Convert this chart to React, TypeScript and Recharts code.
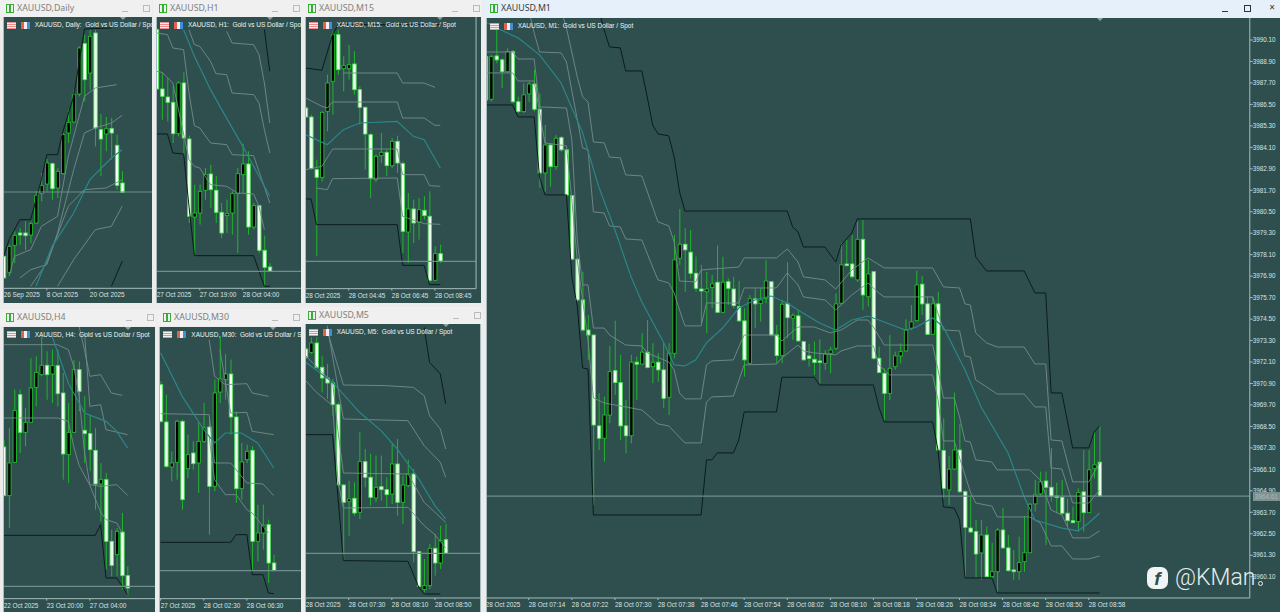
import { Bar, ComposedChart, Line, ReferenceLine, XAxis, YAxis } from "recharts"

const BG = "#2f4f4f"
const BLACK = "#0b1b1d"
const GREY = "#748b8b"
const TEAL = "#2b8689"
const AXIS = "#a6bcbc"
const BAND = 5.385

type Knot = number[]

// M1 has a readable price axis. The other panes show no prices, so they use relative points.
const m1Open = [3989.17,3986.79,3989.21,3988.99,3988.33,3989.45,3986.65,3986.10,3987.09,3987.64,3986.23,3982.67,3984.23,3983.02,3984.64,3983.96,3981.40,3977.85,3975.57,3973.89,3973.61,3968.53,3967.84,3969.14,3971.62,3970.95,3968.53,3967.98,3972.09,3971.99,3972.65,3971.84,3972.09,3971.66,3970.13,3972.59,3977.90,3978.68,3978.24,3977.06,3976.18,3976.03,3976.26,3976.56,3974.88,3976.59,3976.18,3975.20,3974.40,3972.03,3975.63,3975.38,3975.66,3976.59,3973.61,3972.46,3975.36,3974.55,3974.68,3973.24,3972.44,3972.25,3972.16,3972.03,3972.59,3972.87,3975.39,3977.58,3977.58,3976.69,3978.96,3975.75,3977.15,3972.31,3971.47,3970.35,3971.84,3972.44,3972.72,3973.99,3974.41,3976.45,3975.35,3973.65,3975.35,3967.15,3964.95,3966.12,3967.18,3964.85,3962.82,3962.62,3961.43,3962.43,3960.10,3960.38,3962.71,3961.71,3960.48,3960.38,3960.94,3961.44,3964.17,3964.73,3965.45,3965.10,3964.61,3964.54,3963.65,3963.23,3963.18,3964.84,3963.68,3966.16,3966.50]
const m1High = [3989.27,3989.27,3990.83,3989.08,3989.64,3989.55,3986.93,3987.68,3987.77,3988.43,3987.12,3985.35,3984.33,3984.79,3984.74,3983.96,3981.44,3977.90,3977.15,3974.73,3973.61,3970.35,3970.16,3973.00,3974.41,3972.50,3969.98,3972.50,3972.40,3973.71,3974.45,3973.15,3972.59,3973.17,3973.15,3979.20,3980.66,3979.58,3979.48,3977.99,3977.53,3977.15,3976.97,3978.61,3977.99,3976.78,3976.87,3976.63,3975.11,3975.85,3976.22,3976.22,3977.81,3976.59,3974.17,3975.57,3977.68,3974.83,3975.01,3973.24,3973.11,3973.24,3973.37,3972.77,3972.96,3975.94,3978.74,3978.92,3979.20,3979.95,3980.04,3977.81,3977.15,3972.96,3971.75,3973.61,3972.68,3973.15,3974.49,3975.29,3977.21,3976.91,3975.75,3975.75,3976.03,3968.96,3966.85,3970.39,3968.64,3964.95,3964.58,3963.27,3963.27,3962.90,3961.99,3962.82,3963.94,3962.43,3961.59,3962.34,3963.50,3964.22,3965.51,3965.97,3965.97,3967.28,3965.36,3965.51,3964.48,3964.02,3965.04,3967.18,3967.18,3968.17,3968.53]
const m1Low = [3986.65,3986.65,3988.80,3987.40,3988.24,3986.57,3986.01,3986.01,3986.65,3986.10,3981.83,3981.62,3981.90,3982.84,3983.86,3981.34,3977.81,3975.48,3973.80,3972.22,3964.11,3967.18,3966.53,3968.68,3970.26,3967.74,3967.00,3967.56,3969.98,3971.94,3971.75,3970.91,3971.00,3969.52,3969.14,3972.31,3977.53,3976.03,3976.78,3976.03,3974.28,3973.71,3975.11,3974.83,3974.83,3975.29,3975.11,3974.36,3971.28,3971.94,3973.99,3974.36,3975.39,3973.52,3972.03,3972.03,3973.43,3973.33,3973.24,3972.18,3971.84,3971.38,3970.91,3971.66,3971.47,3972.77,3975.29,3977.43,3976.78,3976.59,3975.01,3975.20,3972.22,3971.47,3968.86,3969.98,3971.66,3972.03,3972.68,3973.89,3974.36,3974.73,3973.61,3973.61,3967.18,3964.48,3964.11,3966.07,3964.76,3960.10,3962.54,3960.03,3959.92,3960.03,3960.03,3959.26,3961.67,3960.37,3959.92,3959.92,3960.38,3961.43,3963.74,3964.58,3961.87,3964.30,3963.65,3963.55,3962.90,3963.09,3962.62,3962.62,3963.65,3965.60,3964.58]
const m1Close = [3986.75,3989.17,3988.99,3988.33,3989.45,3986.65,3986.10,3987.03,3987.64,3986.23,3982.67,3984.23,3983.02,3984.61,3983.96,3981.44,3977.85,3975.57,3973.89,3973.61,3968.58,3967.84,3969.14,3971.56,3970.95,3968.53,3967.98,3972.09,3971.98,3972.65,3971.79,3972.09,3971.66,3970.07,3972.59,3977.81,3978.68,3978.37,3977.06,3976.22,3976.07,3976.18,3976.47,3974.88,3976.56,3976.22,3975.25,3974.40,3972.22,3975.63,3975.35,3975.57,3976.63,3973.61,3972.46,3975.33,3974.58,3974.69,3973.28,3972.22,3972.30,3972.07,3972.08,3972.55,3972.77,3975.35,3977.53,3977.49,3976.87,3978.96,3975.85,3977.02,3972.31,3971.51,3970.35,3971.75,3972.44,3972.68,3973.89,3974.34,3976.41,3975.35,3973.65,3975.35,3967.18,3965.04,3966.11,3967.18,3964.85,3962.86,3962.60,3961.37,3962.43,3960.10,3960.38,3962.71,3961.71,3960.44,3960.38,3960.89,3961.44,3964.15,3964.67,3965.41,3965.10,3964.58,3964.54,3963.65,3963.23,3963.12,3964.80,3963.68,3966.07,3966.35,3964.61]

const m1Upper: Knot[] = [[21,3991.78],[22,3990.66],[23,3989.71],[25,3989.66],[26,3988.37],[29,3988.37],[30,3986.92],[31,3985.35],[32,3984.85],[34,3984.74],[35,3983.56],[36,3981.61],[37,3980.54],[56,3980.54],[57,3979.65],[58,3979.37],[59,3978.53],[63,3978.53],[65,3977.69],[66,3978.64],[68,3979.31],[69,3980.10],[90,3980.10],[91,3977.97],[93,3977.19],[100,3977.19],[102,3975.96],[104,3975.96],[105,3970.37],[107,3970.37],[109,3967.30],[112,3967.30],[113,3968.19],[114,3968.53]]
const m1Lower: Knot[] = [[0,3986.47],[5,3986.47],[6,3985.80],[9,3985.80],[10,3982.45],[11,3981.44],[15,3981.44],[16,3976.86],[17,3975.23],[18,3971.77],[19,3971.71],[20,3963.55],[40,3963.55],[41,3966.63],[42,3966.63],[43,3967.02],[46,3967.02],[47,3967.74],[48,3969.31],[54,3969.31],[55,3971.25],[61,3971.25],[62,3970.82],[72,3970.82],[73,3969.59],[74,3968.75],[83,3968.75],[84,3967.18],[85,3964.00],[87,3963.94],[88,3963.27],[89,3960.03],[94,3960.03],[95,3959.19],[114,3959.19]]
const m1BandA: Knot[] = [[14,3991.78],[15,3990.77],[17,3988.04],[18,3986.92],[19,3986.64],[20,3984.40],[22,3984.35],[23,3983.56],[25,3983.51],[26,3982.56],[29,3982.50],[31,3980.77],[32,3979.93],[34,3979.71],[35,3978.81],[36,3976.63],[39,3976.58],[40,3977.25],[47,3977.41],[48,3977.92],[54,3977.92],[56,3978.42],[58,3977.69],[59,3976.86],[63,3976.69],[65,3976.18],[68,3977.25],[71,3977.92],[74,3977.36],[83,3977.36],[85,3976.30],[88,3976.24],[89,3975.35],[90,3975.29],[91,3973.73],[93,3973.17],[95,3972.94],[100,3972.94],[102,3971.99],[104,3971.99],[105,3967.74],[107,3967.69],[109,3965.40],[112,3965.40],[114,3966.46]]
const m1BandB: Knot[] = [[8,3991.78],[9,3990.50],[10,3989.43],[14,3989.38],[15,3988.87],[18,3984.07],[19,3983.96],[20,3980.49],[22,3980.43],[23,3979.71],[25,3979.65],[26,3978.98],[29,3978.92],[31,3977.41],[32,3976.69],[34,3976.52],[35,3975.96],[36,3975.01],[37,3974.12],[40,3974.12],[41,3975.40],[47,3975.40],[48,3976.24],[54,3976.24],[56,3977.08],[58,3976.41],[59,3975.74],[63,3975.57],[65,3975.01],[68,3975.85],[71,3976.52],[73,3975.96],[74,3975.74],[83,3975.74],[85,3973.89],[88,3973.84],[89,3972.44],[90,3972.38],[91,3971.10],[93,3970.71],[95,3970.31],[100,3970.31],[102,3969.59],[104,3969.59],[105,3966.18],[107,3966.12],[109,3964.22],[112,3964.22],[114,3964.95]]
const m1BandC: Knot[] = [[0,3989.43],[5,3989.43],[6,3989.04],[9,3989.04],[10,3986.36],[15,3986.30],[16,3984.51],[17,3978.92],[18,3976.41],[19,3976.41],[20,3974.00],[22,3974.00],[23,3973.61],[26,3973.05],[29,3973.00],[30,3972.61],[34,3972.10],[35,3971.66],[36,3970.37],[37,3970.04],[40,3970.04],[41,3971.94],[42,3972.16],[46,3972.22],[47,3972.94],[48,3973.61],[54,3973.61],[55,3973.28],[58,3974.06],[61,3974.06],[64,3973.73],[66,3973.89],[69,3974.45],[71,3974.45],[72,3974.06],[74,3973.05],[83,3973.05],[84,3971.66],[85,3970.09],[87,3970.09],[88,3969.03],[89,3967.69],[90,3967.63],[91,3966.63],[94,3966.51],[95,3966.07],[101,3966.07],[103,3965.51],[105,3963.83],[107,3963.55],[109,3962.27],[112,3962.27],[114,3962.66]]
const m1BandD: Knot[] = [[0,3988.26],[5,3988.26],[6,3987.81],[9,3987.81],[10,3986.08],[11,3984.35],[15,3984.18],[16,3981.16],[17,3977.81],[19,3973.33],[20,3970.09],[22,3969.81],[24,3969.70],[29,3969.42],[32,3968.64],[34,3968.53],[37,3967.58],[40,3967.58],[41,3969.87],[42,3970.15],[46,3970.20],[48,3971.94],[54,3971.99],[55,3972.33],[58,3973.05],[59,3972.72],[61,3972.61],[65,3972.50],[66,3972.72],[69,3973.00],[72,3973.00],[73,3971.94],[75,3971.38],[83,3971.38],[84,3969.98],[85,3967.69],[87,3967.69],[90,3964.84],[91,3964.22],[94,3964.05],[95,3963.44],[101,3963.44],[103,3963.10],[105,3961.82],[107,3961.82],[109,3961.09],[112,3961.09],[114,3961.26]]
const m1Mid: Knot[] = [[0,3991.11],[2,3990.77],[6,3990.22],[10,3989.27],[14,3987.70],[18,3984.91],[21,3981.89],[24,3979.48],[27,3976.86],[29,3975.46],[33,3973.22],[35,3971.94],[37,3971.88],[39,3972.22],[41,3973.17],[44,3974.00],[47,3975.12],[50,3975.57],[53,3975.79],[56,3975.40],[58,3975.01],[62,3974.28],[65,3973.89],[68,3974.45],[71,3974.67],[74,3974.34],[78,3973.89],[80,3974.06],[83,3974.56],[85,3974.06],[89,3971.66],[92,3969.59],[97,3967.02],[100,3964.56],[102,3963.27],[107,3962.82],[110,3962.66],[112,3963.10],[114,3963.66]]
const m1TickBars = [0,8,16,24,32,40,48,56,64,72,80,88,96,104,112]
const m1TickLabels = ["28 Oct 2025","28 Oct 07:14","28 Oct 07:22","28 Oct 07:30","28 Oct 07:38","28 Oct 07:46","28 Oct 07:54","28 Oct 08:02","28 Oct 08:10","28 Oct 08:18","28 Oct 08:26","28 Oct 08:34","28 Oct 08:42","28 Oct 08:50","28 Oct 08:58"]
const m1PriceTicks = [3990.1,3988.9,3987.7,3986.5,3985.3,3984.1,3982.9,3981.7,3980.5,3979.3,3978.1,3976.9,3975.7,3974.5,3973.3,3972.1,3970.9,3969.7,3968.5,3967.3,3966.1,3964.9,3963.7,3962.5,3961.3,3960.1]

const dailyOpen = [96,48,129,166,166,160,196,284,313,374,301,344,466,499,583,734,646,766,476,463,479,429,316]
const dailyHigh = [96,131,171,181,201,201,291,346,388,378,361,466,536,596,726,761,776,776,523,514,511,461,351]
const dailyLow = [31,41,76,131,114,136,194,261,291,266,271,341,436,496,576,561,596,426,336,411,386,296,286]
const dailyClose = [31,126,159,160,158,194,278,308,376,299,351,461,498,581,721,626,756,481,448,479,466,309,288]
const dailyUpper: Knot[] = [[0,96],[1,146],[3,206],[5,206],[7,326],[8,401],[10,401],[11,471],[13,576],[15,778],[20,781]]
const dailyLower: Knot[] = [[20,6],[22,81]]
const dailyBandA: Knot[] = [[1,36],[2,96],[5,116],[7,186],[10,216],[12,396],[15,576],[17,601],[21,611]]
const dailyBandB: Knot[] = [[3,31],[5,56],[8,71],[10,166],[13,356],[15,466],[17,481],[20,496],[22,519]]
const dailyBandC: Knot[] = [[5,6],[8,76],[12,246],[15,296],[19,301],[22,326]]
const dailyBandD: Knot[] = [[10,6],[13,86],[17,176],[20,186],[22,246]]
const dailyMid: Knot[] = [[6,6],[9,126],[13,226],[16,326],[20,391],[22,416]]
const dailyTicks = ["26 Sep 2025","8 Oct 2025","20 Oct 2025"]

const h1Open = [776,598,574,558,464,616,448,214,226,294,343,294,228,218,226,284,341,373,184,248,114,64]
const h1High = [781,648,631,606,621,648,458,311,311,361,371,336,256,266,291,361,434,411,256,251,158,76]
const h1Low = [596,506,501,436,456,396,196,98,191,266,241,196,151,166,161,106,286,161,176,106,4,48]
const h1Close = [598,576,558,464,616,451,216,226,291,341,296,228,166,224,284,344,373,184,248,114,63,51]
const h1Upper: Knot[] = [[20,776],[21,651]]
const h1Lower: Knot[] = [[0,463],[2,463],[3,406],[5,403],[6,246],[7,98],[18,98],[20,6],[21,6]]
const h1BandA: Knot[] = [[13,771],[14,736],[18,731],[19,701],[20,616],[21,496]]
const h1BandB: Knot[] = [[6,776],[7,731],[8,726],[10,681],[11,644],[13,641],[14,586],[18,581],[19,556],[20,476],[21,406]]
const h1BandC: Knot[] = [[0,766],[2,761],[3,721],[5,716],[6,586],[7,488],[8,481],[10,436],[13,431],[14,401],[18,398],[21,256]]
const h1BandD: Knot[] = [[0,651],[1,648],[3,616],[6,386],[7,366],[8,361],[10,311],[13,306],[15,286],[18,283],[19,246],[20,176]]
const h1Mid: Knot[] = [[5,776],[7,696],[10,596],[13,510],[16,426],[18,366],[21,276]]
const h1Ticks = ["27 Oct 2025","27 Oct 19:00","28 Oct 04:00"]

const m15Open = [542,515,357,334,532,622,762,660,660,674,597,544,462,327,399,409,369,442,375,170,239,199,235,217,25,105]
const m15High = [547,522,387,532,642,772,777,697,732,712,607,547,467,402,467,417,452,459,382,287,267,272,277,292,127,132]
const m15Low = [512,357,97,322,472,522,642,592,627,582,492,357,272,319,377,337,362,347,107,77,137,147,207,17,22,77]
const m15Close = [515,360,334,529,617,762,657,669,672,597,544,464,330,397,409,369,442,377,172,239,197,237,219,25,105,82]
const m15Upper: Knot[] = [[0,662],[3,655],[5,762],[6,792],[25,792]]
const m15Lower: Knot[] = [[0,269],[1,269],[2,192],[17,192],[18,70],[22,70],[23,12],[25,12]]
const m15BandA: Knot[] = [[7,647],[17,647],[18,617],[22,617],[24,604]]
const m15BandB: Knot[] = [[0,572],[3,547],[4,542],[5,560],[17,560],[18,512],[22,512],[24,490],[25,490]]
const m15BandC: Knot[] = [[0,357],[3,367],[5,419],[17,419],[18,342],[22,342],[23,309],[25,307]]
const m15BandD: Knot[] = [[2,302],[4,297],[5,330],[17,332],[18,217],[22,195],[25,193]]
const m15Mid: Knot[] = [[0,462],[4,432],[7,477],[10,497],[17,502],[20,457],[22,447],[25,362]]
const m15Ticks = ["28 Oct 2025","28 Oct 04:45","28 Oct 06:45","28 Oct 08:45"]
const m15PriceTicks = [772,709,645,580,515,450,386,321,257,193,129,65]

const h4Open = [455,309,409,612,499,529,634,672,700,674,699,617,432,499,687,505,495,445,344,357,172,132,200,69]
const h4High = [477,512,627,627,572,722,727,787,742,747,747,677,587,717,712,607,552,512,407,377,207,212,257,97]
const h4Low = [307,212,407,437,457,527,577,667,597,587,577,357,347,497,562,407,382,267,232,87,67,67,27,9]
const h4Close = [309,407,564,499,529,632,679,700,672,699,615,434,499,687,622,495,447,344,357,172,100,202,69,32]
const h4Lower: Knot[] = [[0,190],[17,190],[18,222],[19,62],[21,62],[23,12]]
const h4BandA: Knot[] = [[14,817],[15,747],[16,667],[18,672],[20,617],[22,610]]
const h4BandB: Knot[] = [[15,800],[16,577],[18,582],[19,507],[23,492]]
const h4BandC: Knot[] = [[0,762],[10,762],[12,747],[13,697],[14,607],[15,440],[16,342],[18,337],[21,342],[23,310]]
const h4BandD: Knot[] = [[0,542],[10,542],[12,532],[13,457],[14,400],[16,340],[18,260],[19,237],[21,227],[22,197]]
const h4Mid: Knot[] = [[9,787],[12,647],[15,557],[19,532],[21,502],[23,452]]
const h4Ticks = ["22 Oct 2025","23 Oct 20:00","27 Oct 04:00"]

const m30Open = [642,530,395,409,532,390,437,407,472,515,337,620,657,674,545,330,417,445,172,197,222,107]
const m30High = [652,612,442,537,537,492,472,527,587,547,657,787,734,717,562,467,462,457,282,282,237,132]
const m30Low = [527,392,352,357,267,362,387,317,467,192,322,587,597,492,287,297,407,87,112,147,47,82]
const m30Close = [532,397,407,532,297,432,405,472,512,337,617,659,674,545,330,410,442,172,197,220,107,84]
const m30Lower: Knot[] = [[0,169],[13,169],[14,192],[16,192],[17,72],[19,72],[20,17],[21,15]]
const m30BandA: Knot[] = [[9,777],[10,667],[12,642],[16,645],[17,617],[20,607]]
const m30BandB: Knot[] = [[11,747],[13,557],[16,559],[17,502],[21,492]]
const m30BandC: Knot[] = [[0,555],[9,552],[10,407],[13,407],[16,347],[19,344],[21,309]]
const m30BandD: Knot[] = [[9,487],[10,357],[12,312],[14,312],[16,267],[17,257],[20,197]]
const m30Mid: Knot[] = [[0,737],[4,607],[8,507],[10,467],[12,497],[15,497],[18,467],[21,392]]
const m30Ticks = ["27 Oct 2025","28 Oct 02:30","28 Oct 06:30"]

const m5Open = [747,737,765,692,660,645,580,339,289,299,257,409,362,300,334,325,312,402,287,337,372,139,25,37,149,105,175]
const m5High = [752,782,782,727,702,657,587,342,352,347,497,447,432,427,427,362,462,477,367,415,387,142,117,162,192,217,222]
const m5Low = [717,732,687,617,597,547,332,112,187,247,237,332,277,287,292,272,282,247,222,332,107,32,17,27,67,87,132]
const m5Close = [722,765,692,660,645,580,339,287,297,255,409,362,302,332,325,310,402,287,339,372,139,35,37,149,105,172,134]
const m5Upper: Knot[] = [[22,812],[23,707],[25,672],[26,582]]
const m5Lower: Knot[] = [[0,490],[5,490],[7,112],[19,110],[21,32],[22,12],[25,12]]
const m5BandA: Knot[] = [[4,802],[7,639],[15,637],[20,632],[22,607],[23,547],[25,507],[26,447]]
const m5BandB: Knot[] = [[4,817],[7,537],[19,532],[22,457],[25,407],[26,362]]
const m5BandC: Knot[] = [[0,727],[3,677],[5,647],[6,500],[7,375],[19,372],[22,287],[26,227]]
const m5BandD: Knot[] = [[0,652],[2,617],[5,577],[6,350],[7,270],[19,272],[22,217],[24,190],[26,150]]
const m5Mid: Knot[] = [[0,707],[5,647],[10,557],[14,502],[17,447],[21,357],[24,277],[26,237]]
const m5Ticks = ["28 Oct 2025","28 Oct 07:30","28 Oct 08:10","28 Oct 08:50"]

function Candle(props: any) {
  const { x, y, width, height, payload } = props
  if (payload.open == null || !height) return null
  const unit = Math.abs(height) / (payload.high - payload.low)
  const cx = x + width / 2
  const openY = y + (payload.high - payload.open) * unit
  const closeY = y + (payload.high - payload.close) * unit
  const up = payload.close >= payload.open
  const top = Math.min(openY, closeY)
  const body = Math.max(Math.abs(openY - closeY), 1.5)
  return (
    <g>
      <line x1={cx} x2={cx} y1={y} y2={y + Math.abs(height)} stroke="#20b52a" strokeWidth={1} />
      <rect x={cx - 1.7} y={top} width={3.4} height={body} fill={up ? "#000000" : "#f4fff4"} stroke={up ? "#1fbf28" : "#4be455"} strokeWidth={0.9} />
    </g>
  )
}

function TimeTick(props: any) {
  const { x, y, payload, bars, labels } = props
  const label = labels[bars.indexOf(payload.value)]
  return (
    <text x={x} y={y + 5} fill="#d8e4e4" fontSize={6.4} fontFamily="Liberation Sans">
      {label}
    </text>
  )
}

function WindowBar({ left, top, right, name, active }: any) {
  return (
    <div style={{ position: "absolute", left, top, width: right - left, height: 17, background: active ? "#e5f0fb" : "#f0f0f0", overflow: "hidden" }}>
      <div style={{ position: "absolute", left: 6, top: 4, width: 2, height: 7, border: "1px solid #35b035" }} />
      <div style={{ position: "absolute", left: 10, top: 4, width: 2, height: 7, border: "1px solid #35b035" }} />
      <div style={{ position: "absolute", left: 17, top: 1, fontFamily: "Noto Sans", fontSize: 8.8, lineHeight: "14px", color: active ? "#3c3c3c" : "#808080" }}>{name}</div>
      <div style={{ position: "absolute", right: active ? 52 : 24, top: 11, width: 6, height: 1, background: active ? "#333" : "#bbb" }} />
      <div style={{ position: "absolute", right: active ? 29 : 2, top: 5, width: 5, height: 5, border: `1px solid ${active ? "#333" : "#bbb"}` }} />
      {active && <div style={{ position: "absolute", right: 5, top: 0, fontFamily: "Noto Sans", fontSize: 10, color: "#333" }}>×</div>}
    </div>
  )
}

function Flags({ text }: { text: string }) {
  return (
    <>
      <div style={{ position: "absolute", left: 3, top: 4.5, width: 9, height: 7, background: "repeating-linear-gradient(#ea8f8f 0 1px, #f7eeee 1px 2px)" }} />
      <div style={{ position: "absolute", left: 17, top: 4.5, width: 9, height: 7, background: "linear-gradient(90deg, #e2604f 0 35%, #f7eeee 35% 62%, #3f8fd8 62%)" }} />
      <div style={{ position: "absolute", left: 31, top: 4, fontFamily: "Liberation Sans", fontSize: 6.5, lineHeight: "8px", color: "#eef4f4", whiteSpace: "pre" }}>{text}</div>
    </>
  )
}

function Pane(p: any) {
  const count = Math.max(p.open.length, Math.floor((p.plotRight - p.plotLeft) / BAND))
  const rows: any[] = []
  for (let i = 0; i < count; i++) {
    const row: any = { bar: i }
    if (i < p.open.length) {
      row.open = p.open[i]
      row.high = p.high[i]
      row.low = p.low[i]
      row.close = p.close[i]
      row.range = [p.low[i], p.high[i]]
    }
    rows.push(row)
  }
  p.lines.forEach((line: any, n: number) => {
    line.knots.forEach((k: Knot) => {
      rows[k[0]][`line${n}`] = k[1]
    })
  })
  const plotWidth = p.plotRight - p.plotLeft
  const axisWidth = p.axisWidth || 0
  return (
    <div style={{ position: "absolute", left: p.left, top: p.top, width: p.right - p.left, height: p.bottom - p.top, background: BG, overflow: "hidden", borderLeft: `1px solid ${AXIS}`, boxSizing: "border-box", borderRight: p.frame ? `1px solid ${AXIS}` : undefined }}>
      <div style={{ position: "absolute", left: p.plotLeft - p.left - 1, top: 0 }}>
        <ComposedChart width={plotWidth + axisWidth} height={p.bottom - p.top} data={rows} margin={{ top: 0, right: 0, bottom: 0, left: 0 }}>
          <XAxis
            dataKey="bar"
            ticks={p.tickBars}
            interval={0}
            height={p.bottom - p.plotBottom}
            stroke={AXIS}
            tickSize={2}
            padding={{ left: 0, right: plotWidth - count * BAND }}
            tick={<TimeTick bars={p.tickBars} labels={p.tickLabels} />}
          />
          <YAxis
            orientation="right"
            hide={!axisWidth}
            width={axisWidth}
            type="number"
            domain={p.domain}
            allowDataOverflow
            ticks={p.priceTicks}
            interval={0}
            stroke={AXIS}
            tickSize={3}
            tickMargin={0}
            tick={p.priceLabels ? { fill: "#d8e4e4", fontSize: 6.3, fontFamily: "Liberation Sans" } : false}
            tickFormatter={(v: number) => v.toFixed(2)}
          />
          {p.lines.map((line: any, n: number) => (
            <Line key={n} dataKey={`line${n}`} stroke={line.color} strokeWidth={line.width} dot={false} connectNulls isAnimationActive={false} />
          ))}
          <Bar dataKey="range" barSize={4} shape={<Candle />} isAnimationActive={false} />
          <ReferenceLine y={p.current} stroke="#6f8d8d" strokeWidth={1.2} />
        </ComposedChart>
      </div>
      <Flags text={p.caption} />
      <div style={{ position: "absolute", left: p.shift - p.left - 4, top: 0, width: 0, height: 0, borderLeft: "3.5px solid transparent", borderRight: "3.5px solid transparent", borderTop: "3.5px solid #8da3a3" }} />
      {p.children}
    </div>
  )
}

function bands(upper: Knot[] | null, lower: Knot[], a: Knot[], b: Knot[], c: Knot[], d: Knot[], mid: Knot[]) {
  const list = [
    { knots: a, color: GREY, width: 0.9 },
    { knots: b, color: GREY, width: 0.9 },
    { knots: c, color: GREY, width: 0.9 },
    { knots: d, color: GREY, width: 0.9 },
    { knots: mid, color: TEAL, width: 1.2 },
    { knots: lower, color: BLACK, width: 1 },
  ]
  if (upper) list.push({ knots: upper, color: BLACK, width: 1 })
  return list
}

const GOLD = ":  Gold vs US Dollar / Spot"

export default function App() {
  return (
    <div style={{ position: "fixed", left: 0, top: 0, width: 1280, height: 612, background: "#ececec", overflow: "hidden" }}>
      <WindowBar left={0} top={0} right={152} name="XAUUSD,Daily" />
      <Pane left={2.7} top={17.33} right={152} bottom={303} plotLeft={0.98} plotRight={160} plotBottom={288.67} domain={[0, 814]}
        open={dailyOpen} high={dailyHigh} low={dailyLow} close={dailyClose} current={289} shift={122.7}
        lines={bands(dailyUpper, dailyLower, dailyBandA, dailyBandB, dailyBandC, dailyBandD, dailyMid)}
        tickBars={[0, 8, 16]} tickLabels={dailyTicks} caption={"XAUUSD, Daily" + GOLD} />

      <WindowBar left={153} top={0} right={302} name="XAUUSD,H1" />
      <Pane left={156} top={17.33} right={301} bottom={303} plotLeft={154.3} plotRight={310} plotBottom={288.67} domain={[0, 814]}
        open={h1Open} high={h1High} low={h1Low} close={h1Close} current={51} shift={270}
        lines={bands(h1Upper, h1Lower, h1BandA, h1BandB, h1BandC, h1BandD, h1Mid)}
        tickBars={[0, 8, 16]} tickLabels={h1Ticks} caption={"XAUUSD, H1" + GOLD} />

      <WindowBar left={302} top={0} right={482} name="XAUUSD,M15" />
      <Pane left={304.7} top={17.33} right={481} bottom={303} plotLeft={302.64} plotRight={475.7} plotBottom={289} domain={[0, 815]} axisWidth={6}
        priceTicks={m15PriceTicks}
        open={m15Open} high={m15High} low={m15Low} close={m15Close} current={82} shift={440}
        lines={bands(m15Upper, m15Lower, m15BandA, m15BandB, m15BandC, m15BandD, m15Mid)}
        tickBars={[0, 8, 16, 24]} tickLabels={m15Ticks} caption={"XAUUSD, M15" + GOLD} />

      <WindowBar left={0} top={309} right={156} name="XAUUSD,H4" />
      <Pane left={2.7} top={326.67} right={155} bottom={612} plotLeft={0.98} plotRight={165} plotBottom={598.33} domain={[0, 815]}
        open={h4Open} high={h4High} low={h4Low} close={h4Close} current={37} shift={128}
        lines={bands(null, h4Lower, h4BandA, h4BandB, h4BandC, h4BandD, h4Mid)}
        tickBars={[0, 8, 16]} tickLabels={h4Ticks} caption={"XAUUSD, H4" + GOLD} />

      <WindowBar left={157} top={309} right={302} name="XAUUSD,M30" />
      <Pane left={159.3} top={326.67} right={301} bottom={612} plotLeft={157.64} plotRight={310} plotBottom={598.33} domain={[0, 815]}
        open={m30Open} high={m30High} low={m30Low} close={m30Close} current={84} shift={273}
        lines={bands(null, m30Lower, m30BandA, m30BandB, m30BandC, m30BandD, m30Mid)}
        tickBars={[0, 8, 16]} tickLabels={m30Ticks} caption={"XAUUSD, M30" + GOLD} />

      <WindowBar left={302} top={307} right={483} name="XAUUSD,M5" />
      <Pane left={304.7} top={324.33} right={481.5} bottom={612} plotLeft={302.64} plotRight={481} plotBottom={598.33} domain={[0, 822]} frame
        open={m5Open} high={m5High} low={m5Low} close={m5Close} current={134} shift={445.7}
        lines={bands(m5Upper, m5Lower, m5BandA, m5BandB, m5BandC, m5BandD, m5Mid)}
        tickBars={[0, 8, 16, 24]} tickLabels={m5Ticks} caption={"XAUUSD, M5" + GOLD} />

      <WindowBar left={484} top={0} right={1280} name="XAUUSD,M1" active />
      <Pane left={485.7} top={18} right={1280} bottom={612} plotLeft={483.2} plotRight={1250} plotBottom={598} domain={[3958.91, 3991.33]} axisWidth={30}
        priceTicks={m1PriceTicks} priceLabels
        open={m1Open} high={m1High} low={m1Low} close={m1Close} current={3964.61} shift={1100}
        lines={bands(m1Upper, m1Lower, m1BandA, m1BandB, m1BandC, m1BandD, m1Mid)}
        tickBars={m1TickBars} tickLabels={m1TickLabels} caption={"XAUUSD, M1" + GOLD}>
        <div style={{ position: "absolute", left: 766.3, top: 473.5, width: 26, height: 9, background: "#7d9191", fontFamily: "Liberation Sans", fontSize: 6.3, lineHeight: "9px", color: "#a9baba", paddingLeft: 2 }}>3964.61</div>
      </Pane>

      <div style={{ position: "absolute", left: 1147, top: 567, width: 21, height: 22, borderRadius: 7, background: "#f2f5f5", color: BG, fontFamily: "Liberation Sans", fontWeight: 700, fontStyle: "italic", fontSize: 19, lineHeight: "24px", textAlign: "center" }}>f</div>
      <div style={{ position: "absolute", left: 1175, top: 563, fontFamily: "Roboto", fontWeight: 300, fontSize: 23, lineHeight: "30px", color: "#e6eeee" }}>@KMan</div>
      <div style={{ position: "absolute", left: 1258, top: 581, width: 3, height: 3, borderRadius: 3, border: "1.2px solid #e6eeee" }} />
    </div>
  )
}
